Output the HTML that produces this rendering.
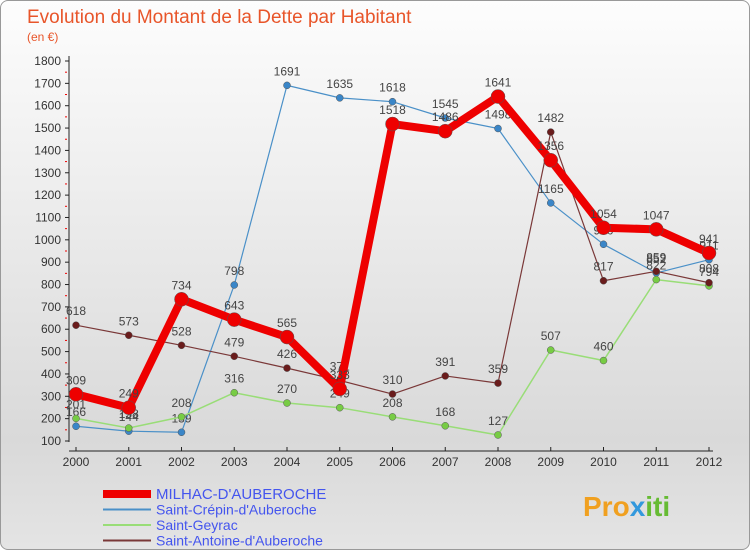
<!DOCTYPE html>
<html><head><meta charset="utf-8"><style>
body{margin:0;width:750px;height:550px;overflow:hidden;font-family:"Liberation Sans",sans-serif}
#wrap{position:absolute;left:0;top:0;width:748px;height:548px;border:1px solid #999;border-radius:8px;background:linear-gradient(#fdfdfd,#d9d9d9 80%,#e4e4e4)}
</style></head><body>
<div id="wrap">
<svg id="c" width="750" height="550" style="position:absolute;left:0;top:0">
<text x="26" y="22" font-size="19" fill="#e8552a">Evolution du Montant de la Dette par Habitant</text>
<text x="26" y="40" font-size="12" fill="#e8552a">(en €)</text>
<g id="axes"></g><g id="series"></g><g id="legend"></g>
<text x="582" y="515" font-size="28" font-weight="bold" fill="#f0a020">Pro<tspan fill="#3399dd">x</tspan><tspan fill="#66bb33">iti</tspan></text>
</svg></div>
<script>
const years=[2000,2001,2002,2003,2004,2005,2006,2007,2008,2009,2010,2011,2012];
const yTicks=[100,200,300,400,500,600,700,800,900,1000,1100,1200,1300,1400,1500,1600,1700,1800];
const milhac=[309,249,734,643,565,333,1518,1486,1641,1356,1054,1047,941];
const crepin=[166,144,139,798,1691,1635,1618,1545,1498,1165,980,852,911];
const geyrac=[201,158,208,316,270,249,208,168,127,507,460,822,794];
const antoine=[618,573,528,479,426,371,310,391,359,1482,817,859,808];
const names=["MILHAC-D'AUBEROCHE","Saint-Crépin-d'Auberoche","Saint-Geyrac","Saint-Antoine-d'Auberoche"];
const NS="http://www.w3.org/2000/svg";
const X=i=>75+i*(633/(years.length-1));
const Y=v=>440-(v-100)*380/1700;
function mk(t,a,p){const e=document.createElementNS(NS,t);for(const k in a)e.setAttribute(k,a[k]);p.appendChild(e);return e;}
const ax=document.getElementById('axes');
let a=mk('line',{x1:68,y1:55,x2:68,y2:441,stroke:'#222'},ax);

a=mk('line',{x1:68,y1:450,x2:712,y2:450,stroke:'#222'},ax);

yTicks.forEach(v=>{const y=Y(v);mk('line',{x1:64,y1:y,x2:68,y2:y,stroke:'#222'},ax);
if(v<1800)mk('line',{x1:64,y1:Y(v+50),x2:66,y2:Y(v+50),stroke:'#e00'},ax);
const t=mk('text',{x:60,y:y+4,'font-size':12,'text-anchor':'end',fill:'#333'},ax);t.textContent=v;
});
years.forEach((yr,i)=>{mk('line',{x1:X(i),y1:446,x2:X(i),y2:450,stroke:'#222'},ax);
const t=mk('text',{x:X(i),y:465,'font-size':12,'text-anchor':'middle',fill:'#333'},ax);t.textContent=yr;
});
const S=document.getElementById('series');
const defs=[[crepin,'#4a90c8','#3a86c8',1.2,3.5],[geyrac,'#99dd77','#77cc44',1.5,3.5],[antoine,'#7a3838','#6a1c1c',1.2,3.5],[milhac,'#ee0000','#ee0000',8,7]];
const order=[1,2,3,0];
defs.forEach((d,k)=>{const [vals,lc,dc,w,r]=d;
const g=mk('g',{},S);
const p=mk('polyline',{points:vals.map((v,i)=>X(i)+','+Y(v)).join(' '),fill:'none',stroke:lc,'stroke-width':w,'stroke-linejoin':'round'},g);

vals.forEach((v,i)=>{const c=mk('circle',{cx:X(i),cy:Y(v),r:r,fill:dc,stroke:'#555','stroke-width':0.5},g);

const t=mk('text',{x:X(i),y:Y(v)-10,'font-size':12,'text-anchor':'middle',fill:'#444'},g);t.textContent=v;
});});
const L=document.getElementById('legend');
const lc=[['#ee0000',8],['#4a90c8',2],['#99dd77',2],['#7a3838',2]];
names.forEach((n,i)=>{const y=493+i*15.5;
const l=mk('line',{x1:102,y1:y,x2:150,y2:y,stroke:lc[i][0],'stroke-width':lc[i][1]},L);

const t=mk('text',{x:155,y:y+5,'font-size':i==0?15:14,fill:'#4455ee'},L);t.textContent=n;
});
</script>
</body></html>
